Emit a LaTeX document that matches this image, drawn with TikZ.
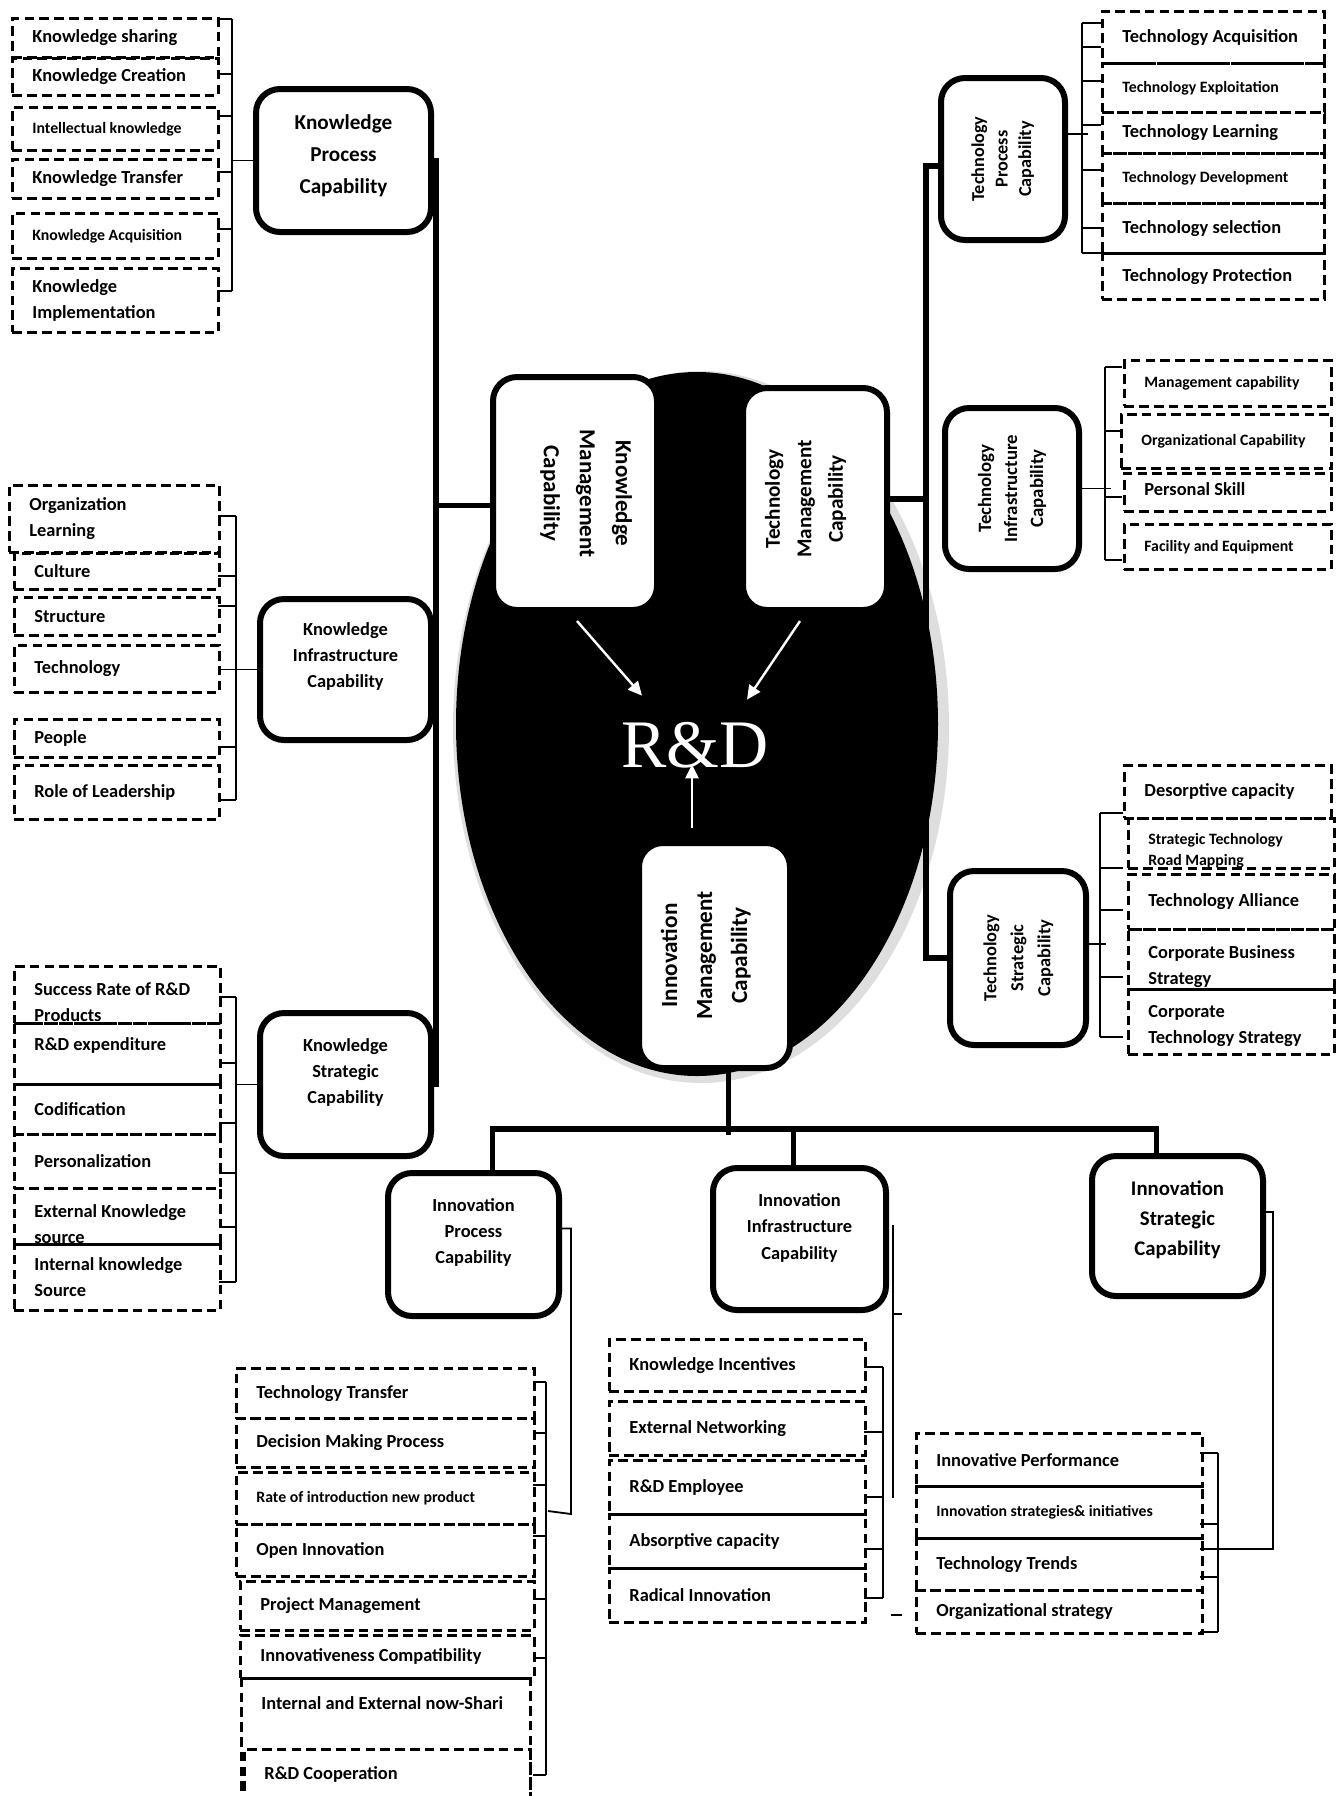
\documentclass[tikz,border=0pt]{standalone}
\usepackage{fontspec}
\usepackage{graphicx}
\setmainfont{Carlito}
\newfontfamily\rdfont{Liberation Serif}
\usetikzlibrary{arrows.meta,positioning,calc}

% stacked lines of a capability box, lifted by the optional depth
\newcommand{\capl}[2][0pt]{\begin{tabular}{@{}c@{}}#2\\[#1]\end{tabular}}
% dashed leaf: name, x1, y1, x2, y2, text
\newcommand{\leaf}[7][]{%
  \pgfmathsetmacro\lfw{(#5-#3)*0.5}%
  \pgfmathsetmacro\lfh{(#6-#4)*0.5}%
  \node[leafbox,minimum width=\lfw pt,minimum height=\lfh pt] (#2) at (#3,#4) {};
  \node[leaftext,right=10.5pt of #2.west,#1] (#2t) {#7};}

\begin{document}
\begin{tikzpicture}[x=0.5pt,y=-0.5pt,
    leafbox/.style={draw,dash pattern=on 4.8pt off 2.6pt,line width=1.3pt,anchor=north west,inner sep=0pt},
    leaftext/.style={inner sep=0pt,align=left,font=\fontsize{9.2}{13}\selectfont\bfseries},
    leafsm/.style={font=\fontsize{7.9}{10.5}\selectfont\bfseries},
    capbox/.style={draw,line width=3pt,rounded corners=12pt,fill=white,anchor=north west,inner sep=0pt},
    spine/.style={line width=2.6pt},
    brk/.style={line width=0.9pt},
    wht/.style={draw=white,line width=1.2pt,-{Triangle[length=7pt,width=6.5pt]}}]
  \path[use as bounding box,fill=white] (0,0) rectangle (1337,1796);
  \coordinate (lsp) at (436,0);
  \coordinate (rsp) at (926,0);

  % the R&D core
  \fill[black!13] (701,727) ellipse [x radius=124pt, y radius=178pt];
  \fill[black] (697,724) ellipse [x radius=120.5pt, y radius=176pt];
  \node[text=white,inner sep=0pt,font=\rdfont\fontsize{34}{34}\selectfont] (rd) at (695,745) {R\&D};
  \node[capbox,minimum width=82pt,minimum height=116.5pt,font=\fontsize{11.5}{18}\selectfont\bfseries]
    (kmc) at (490,374) {\rotatebox{-90}{\capl[12pt]{Knowledge\\Management\\Capability}}};
  \node[capbox,minimum width=72pt,minimum height=111pt,font=\fontsize{10.6}{15.75}\selectfont\bfseries]
    (tmc) at (740,385) {\rotatebox{90}{\capl[10pt]{Technology\\Management\\Capability}}};
  \node[capbox,minimum width=75.5pt,minimum height=112.5pt,font=\fontsize{11.6}{17.5}\selectfont\bfseries]
    (imc) at (636,840) {\rotatebox{90}{\capl[9.5pt]{Innovation\\Management\\Capability}}};
  \draw[wht] ($(kmc.south)+(2,8)$) -- ($(rd.north)+(-53,-26)$);
  \draw[wht] ($(tmc.south)+(-15,8)$) -- ($(rd.north)+(52,-22)$);
  \draw[wht] ($(rd.south |- imc.north)+(-3,-12)$) -- ($(rd.south)+(-3,-4)$);

  % knowledge side
  \node[capbox,minimum width=87.5pt,minimum height=71.5pt,font=\fontsize{10.6}{16}\selectfont\bfseries]
    (kpc) at (253,86) {\capl[5.5pt]{Knowledge\\Process\\Capability}};
  \node[capbox,minimum width=85.5pt,minimum height=70.5pt,font=\fontsize{9.2}{13}\selectfont\bfseries]
    (kic) at (257,596) {\capl[13.5pt]{Knowledge\\Infrastructure\\Capability}};
  \node[capbox,minimum width=85.5pt,minimum height=71.5pt,font=\fontsize{9.2}{13}\selectfont\bfseries]
    (ksc) at (257,1010) {\capl[12.5pt]{Knowledge\\Strategic\\Capability}};
  \draw[spine] (kpc.east) -| (ksc.east -| lsp) -- (ksc.east);
  \draw[spine] (kic.east) -- (kic.east -| lsp);
  \draw[spine] ([yshift=-6pt]kmc.west) -- ++(-54,0);

  \leaf{ks1}{11}{17}{217}{56}{Knowledge sharing}
  \leaf{ks2}{11}{57}{217}{94}{Knowledge Creation}
  \leaf[leafsm]{ks3}{11}{106}{217}{149}{Intellectual knowledge}
  \leaf{ks4}{11}{158}{217}{197}{Knowledge Transfer}
  \leaf[leafsm]{ks5}{11}{212}{217}{257}{Knowledge Acquisition}
  \leaf{ks6}{11}{267}{217}{331}{Knowledge\\Implementation}
  \draw[brk] (232,19) -- (232,291);
  \foreach \y in {19,74,116,172,229,291} \draw[brk] (217,\y) -- (232,\y);
  \draw[brk] (kpc.west) -- ++(-21,0);

  \leaf{ki1}{8}{484}{218}{551}{Organization\\Learning}
  \leaf{ki2}{13}{552}{218}{588}{Culture}
  \leaf{ki3}{13}{596}{218}{634}{Structure}
  \leaf{ki4}{13}{644}{218}{691}{Technology}
  \leaf{ki5}{13}{718}{218}{756}{People}
  \leaf{ki6}{13}{764}{218}{818}{Role of Leadership}
  \draw[brk] (236,516) -- (236,800);
  \foreach \y in {516,576,606,747,800} \draw[brk] (218,\y) -- (236,\y);
  \draw[brk] (kic.west) -- ++(-39,0);

  \leaf[yshift=-3.5pt]{kk1}{13}{965}{219}{1022}{Success Rate of R\&D\\Products}
  \leaf[yshift=4pt]{kk2}{13}{1022}{219}{1083}{R\&D expenditure}
  \leaf{kk3}{13}{1083}{219}{1133}{Codification}
  \leaf{kk4}{13}{1133}{219}{1187}{Personalization}
  \leaf[yshift=-4pt]{kk5}{13}{1187}{219}{1243}{External Knowledge\\source}
  \leaf{kk6}{13}{1243}{219}{1309}{Internal knowledge\\Source}
  \draw[brk] (236,997) -- (236,1282);
  \foreach \y in {997,1063,1123,1173,1227,1282} \draw[brk] (219,\y) -- (236,\y);
  \draw[brk] (ksc.west) -- ++(-21,0);

  % technology side
  \node[capbox,minimum width=62pt,minimum height=81pt,font=\fontsize{9.1}{11.75}\selectfont\bfseries]
    (tpc) at (938,75) {\rotatebox{90}{\capl{Technology\\Process\\Capability}}};
  \node[capbox,minimum width=67pt,minimum height=80.5pt,font=\fontsize{9.4}{13}\selectfont\bfseries]
    (tic) at (942,405) {\rotatebox{90}{\capl{Technology\\Infrastructure\\Capability}}};
  \node[capbox,minimum width=68pt,minimum height=87pt,font=\fontsize{9.2}{13.5}\selectfont\bfseries]
    (tsc) at (947,868) {\rotatebox{90}{\capl{Technology\\Strategic\\Capability}}};
  \draw[spine] ([yshift=-3.5pt]tpc.west) -| (tsc.west -| rsp) -- (tsc.west);
  \draw[spine] (tmc.east) -- (tmc.east -| rsp);

  \leaf{tp1}{1101}{10}{1323}{62}{Technology Acquisition}
  \leaf[leafsm]{tp2}{1101}{62}{1323}{111}{Technology Exploitation}
  \leaf{tp3}{1101}{111}{1323}{152}{Technology Learning}
  \leaf[leafsm]{tp4}{1101}{152}{1323}{202}{Technology Development}
  \leaf{tp5}{1101}{202}{1323}{252}{Technology selection}
  \leaf{tp6}{1101}{252}{1323}{298}{Technology Protection}
  \draw[brk] (1082,23) -- (1082,253);
  \foreach \y in {23,47,81,125,170,228,253} \draw[brk] (1082,\y) -- (1101,\y);
  \draw[brk] ([yshift=12.5pt]tpc.east) -- ++(20,0);

  \leaf[leafsm]{ti1}{1123}{359}{1330}{405}{Management capability}
  \leaf[leafsm]{ti2}{1120}{413}{1330}{467}{Organizational Capability}
  \leaf[yshift=1.5pt]{ti3}{1123}{472}{1330}{510}{Personal Skill}
  \leaf[leafsm]{ti4}{1123}{523}{1330}{568}{Facility and Equipment}
  \draw[brk] (1105,367) -- (1105,560);
  \foreach \y in {367,431,497,560} \draw[brk] (1105,\y) -- (1122,\y);
  \draw[brk] (tic.east) -- ++(29,0);

  \leaf{tt1}{1123}{764}{1330}{817}{Desorptive capacity}
  \leaf[leafsm,yshift=-3.5pt]{tt2}{1127}{817}{1333}{867}{Strategic Technology\\Road Mapping}
  \leaf{tt3}{1127}{873}{1333}{928}{Technology Alliance}
  \leaf[yshift=-3.5pt]{tt4}{1127}{928}{1333}{988}{Corporate Business\\Strategy}
  \leaf[yshift=-2pt]{tt5}{1127}{988}{1333}{1053}{Corporate\\Technology Strategy}
  \draw[brk] (1100,813) -- (1100,1037);
  \foreach \y in {813,868,910,977,1037} \draw[brk] (1100,\y) -- (1123,\y);
  \draw[brk] ([yshift=7pt]tsc.east) -- ++(17,0);

  % innovation side
  \node[capbox,minimum width=85.5pt,minimum height=71.5pt,font=\fontsize{9.2}{13}\selectfont\bfseries]
    (ipc) at (385,1170) {\capl[12.5pt]{Innovation\\Process\\Capability}};
  \node[capbox,minimum width=86.5pt,minimum height=71pt,font=\fontsize{9.2}{13.25}\selectfont\bfseries]
    (iic) at (710,1165) {\capl[11.5pt]{Innovation\\Infrastructure\\Capability}};
  \node[capbox,minimum width=85.5pt,minimum height=70pt,font=\fontsize{10.4}{15}\selectfont\bfseries]
    (isc) at (1089,1153) {\capl[7pt]{Innovation\\Strategic\\Capability}};
  \draw[spine] ([xshift=7pt]imc.south) -- ++(0,64);
  \draw[spine] ([xshift=9.5pt]ipc.north) -- ++(0,-41) -| ([xshift=-10.5pt]isc.north);
  \draw[spine] ([xshift=-3pt]iic.north) -- ++(0,-36);

  \leaf{ip1}{235}{1367}{533}{1417}{Technology Transfer}
  \leaf{ip2}{235}{1417}{533}{1466}{Decision Making Process}
  \leaf[leafsm]{ip3}{235}{1471}{533}{1523}{Rate of introduction new product}
  \leaf{ip4}{235}{1523}{533}{1575}{Open Innovation}
  \leaf{ip5}{239}{1580}{533}{1629}{Project Management}
  \leaf{ip6}{239}{1634}{533}{1677}{Innovativeness Compatibility}
  \leaf[yshift=20.75pt]{ip7}{240}{1677}{529}{1810}{Internal and External now-Shari}
  \leaf[yshift=3pt]{ip8}{243}{1748}{529}{1810}{R\&D Cooperation}
  \draw[brk] (546,1382) -- (546,1775);
  \foreach \y in {1382,1433,1485,1536,1599,1658,1775} \draw[brk] (533,\y) -- (546,\y);
  \draw[brk] ([yshift=8pt]ipc.east) -| (571,1514) -- (548,1511);

  \leaf{ii1}{608}{1338}{864}{1390}{Knowledge Incentives}
  \leaf{ii2}{608}{1400}{864}{1454}{External Networking}
  \leaf{ii3}{608}{1459}{864}{1513}{R\&D Employee}
  \leaf{ii4}{608}{1513}{864}{1567}{Absorptive capacity}
  \leaf{ii5}{608}{1567}{864}{1621}{Radical Innovation}
  \draw[brk] (883,1367) -- (883,1598);
  \foreach \y in {1367,1432,1497,1549,1598} \draw[brk] (864,\y) -- (883,\y);
  \draw[brk] (893,1225) -- (893,1498) (893,1314) -- (902,1314);
  \draw[brk] (891,1615) -- (902,1615);

  \leaf{is1}{915}{1432}{1201}{1485}{Innovative Performance}
  \leaf[leafsm]{is2}{915}{1485}{1201}{1537}{Innovation strategies\& initiatives}
  \leaf{is3}{915}{1537}{1201}{1589}{Technology Trends}
  \leaf{is4}{915}{1589}{1201}{1632}{Organizational strategy}
  \draw[brk] (1218,1453) -- (1218,1632);
  \foreach \y in {1453,1524,1577,1632} \draw[brk] (1200,\y) -- (1218,\y);
  \draw[brk] ([yshift=7pt]isc.east) -| (1273,1549) -- (1200,1549);
\end{tikzpicture}
\end{document}
